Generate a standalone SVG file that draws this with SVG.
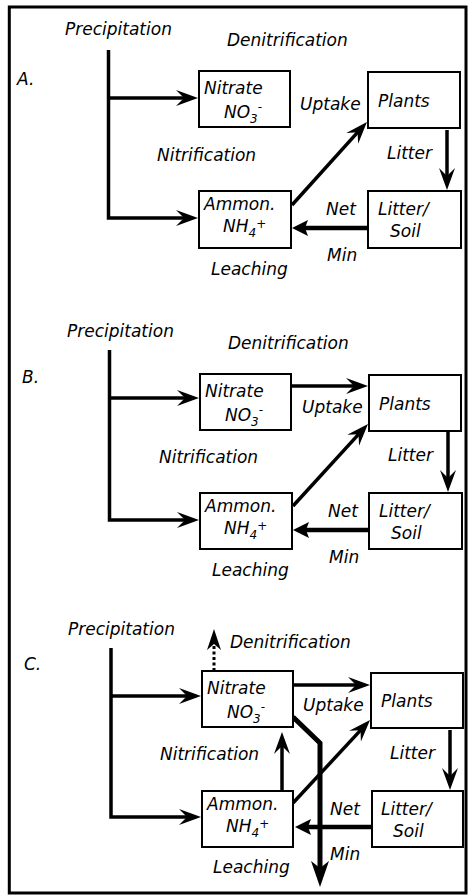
<svg xmlns="http://www.w3.org/2000/svg" width="468" height="895" viewBox="0 0 468 895">
<style>
.t{font-family:"DejaVu Sans","Liberation Sans",sans-serif;font-style:italic;font-size:17px;fill:#000}
.s{font-size:12px}
.box{fill:#fff;stroke:#000;stroke-width:2}
.ln{fill:none;stroke:#000;stroke-width:3.5}
.ar{fill:none;stroke:#000;stroke-width:3.5;marker-end:url(#ah)}
.arf{fill:none;stroke:#000;stroke-width:4.5;marker-end:url(#ahf)}
.arb{fill:none;stroke:#000;stroke-width:5;marker-end:url(#ahb)}
.ard{fill:none;stroke:#000;stroke-width:3;stroke-dasharray:3 2.5;marker-end:url(#ahd)}
</style>
<defs>
<marker id="ah" viewBox="-23 -9 24 18" refX="-8" refY="0" markerWidth="24" markerHeight="18" orient="auto" markerUnits="userSpaceOnUse"><path d="M0,0 L-22,-8 L-14,0 L-22,8 Z" fill="#000"/></marker>
<marker id="ahf" viewBox="-17 -9 18 18" refX="-6" refY="0" markerWidth="18" markerHeight="18" orient="auto" markerUnits="userSpaceOnUse"><path d="M0,0 L-16,-8 L-13,0 L-16,8 Z" fill="#000"/></marker>
<marker id="ahb" viewBox="-27 -10 28 20" refX="-10" refY="0" markerWidth="28" markerHeight="20" orient="auto" markerUnits="userSpaceOnUse"><path d="M0,0 L-26,-9 L-19,0 L-26,9 Z" fill="#000"/></marker>
<marker id="ahd" viewBox="-22 -8 23 16" refX="-17" refY="0" markerWidth="23" markerHeight="16" orient="auto" markerUnits="userSpaceOnUse"><path d="M0,0 L-21,-7 L-15,0 L-21,7 Z" fill="#000"/></marker>
</defs>
<rect x="9.3" y="7" width="456.7" height="886" fill="#fff" stroke="#000" stroke-width="3"/>

<!-- Panel A -->
<g id="panelA">
  <g id="A-connectors">
    <polyline class="ar" points="108.5,50 108.5,218 190,218"/>
    <line class="ar" x1="108.5" y1="98" x2="190" y2="98"/>
    <line class="ar" x1="292" y1="205" x2="361.6" y2="127.9"/>
    <line class="ar" x1="447" y1="130" x2="447" y2="182"/>
    <line class="arf" x1="368" y1="228" x2="298" y2="228"/>
  </g>
  <g id="A-nitrate"><rect class="box" x="199" y="71" width="91" height="56"/><text class="t" x="204" y="94">Nitrate</text><text class="t" x="224" y="118">NO<tspan class="s" dy="5">3</tspan><tspan class="s" dy="-12.5">-</tspan></text></g>
  <g id="A-plants"><rect class="box" x="368" y="72" width="92" height="56"/><text class="t" x="378" y="107">Plants</text></g>
  <g id="A-ammon"><rect class="box" x="199" y="191" width="92" height="57"/><text class="t" x="204" y="210">Ammon.</text><text class="t" x="223" y="232">NH<tspan class="s" dy="5">4</tspan><tspan class="s" dy="-9">+</tspan></text></g>
  <g id="A-litter"><rect class="box" x="368" y="191" width="93" height="57"/><text class="t" x="378" y="215">Litter/</text><text class="t" x="390" y="237">Soil</text></g>
  <g id="A-labels">
    <text class="t" x="17" y="85">A.</text>
    <text class="t" x="65" y="34.5">Precipitation</text>
    <text class="t" x="227" y="46">Denitrification</text>
    <text class="t" x="300" y="110">Uptake</text>
    <text class="t" x="157" y="161">Nitrification</text>
    <text class="t" x="387" y="159">Litter</text>
    <text class="t" x="326" y="215">Net</text>
    <text class="t" x="327" y="261">Min</text>
    <text class="t" x="211" y="275">Leaching</text>
  </g>
</g>

<!-- Panel B -->
<g id="panelB" transform="translate(1,302)">
  <g id="B-connectors">
    <polyline class="ar" points="108.5,48 108.5,218 190,218"/>
    <line class="ar" x1="108.5" y1="96" x2="190" y2="96"/>
    <line class="ar" x1="291" y1="84" x2="359" y2="84"/>
    <line class="ar" x1="292" y1="204" x2="361.6" y2="127.9"/>
    <line class="ar" x1="447" y1="130" x2="447" y2="182"/>
    <line class="arf" x1="368" y1="228" x2="298" y2="228"/>
  </g>
  <g id="B-nitrate"><rect class="box" x="199" y="72" width="91" height="56"/><text class="t" x="204" y="95">Nitrate</text><text class="t" x="224" y="119">NO<tspan class="s" dy="5">3</tspan><tspan class="s" dy="-12.5">-</tspan></text></g>
  <g id="B-plants"><rect class="box" x="368" y="73" width="92" height="56"/><text class="t" x="378" y="108">Plants</text></g>
  <g id="B-ammon"><rect class="box" x="199" y="191" width="92" height="56"/><text class="t" x="204" y="210">Ammon.</text><text class="t" x="223" y="232">NH<tspan class="s" dy="5">4</tspan><tspan class="s" dy="-9">+</tspan></text></g>
  <g id="B-litter"><rect class="box" x="368" y="191" width="93" height="56"/><text class="t" x="378" y="215">Litter/</text><text class="t" x="390" y="237">Soil</text></g>
  <g id="B-labels">
    <text class="t" x="21" y="81">B.</text>
    <text class="t" x="66" y="34.5">Precipitation</text>
    <text class="t" x="227" y="46.5">Denitrification</text>
    <text class="t" x="301" y="111">Uptake</text>
    <text class="t" x="158" y="161">Nitrification</text>
    <text class="t" x="387" y="159">Litter</text>
    <text class="t" x="327" y="215">Net</text>
    <text class="t" x="328" y="261">Min</text>
    <text class="t" x="211" y="274">Leaching</text>
  </g>
</g>

<!-- Panel C -->
<g id="panelC" transform="translate(3,600)">
  <g id="C-connectors">
    <polyline class="ar" points="108,48 108,217 190,217"/>
    <line class="ar" x1="108" y1="96" x2="190" y2="96"/>
    <line class="ar" x1="290" y1="85" x2="359" y2="85"/>
    <line class="ard" x1="211" y1="71" x2="211" y2="46"/>
    <line class="ar" x1="279" y1="191" x2="279" y2="140"/>
    <line class="ar" x1="290" y1="203" x2="361.6" y2="125.9"/>
    <line class="ar" x1="447" y1="130" x2="447" y2="182"/>
    <line class="arf" x1="369" y1="227" x2="298" y2="227"/>
    <polyline class="arb" points="290,117 317,143 317,277"/>
  </g>
  <g id="C-nitrate"><rect class="box" x="199" y="71" width="91" height="56"/><text class="t" x="204" y="94">Nitrate</text><text class="t" x="224" y="118">NO<tspan class="s" dy="5">3</tspan><tspan class="s" dy="-12.5">-</tspan></text></g>
  <g id="C-plants"><rect class="box" x="368" y="73" width="92" height="55"/><text class="t" x="378" y="107">Plants</text></g>
  <g id="C-ammon"><rect class="box" x="199" y="191" width="91" height="56"/><text class="t" x="204" y="210">Ammon.</text><text class="t" x="223" y="232">NH<tspan class="s" dy="5">4</tspan><tspan class="s" dy="-9">+</tspan></text></g>
  <g id="C-litter"><rect class="box" x="369" y="191" width="91" height="56"/><text class="t" x="378" y="215">Litter/</text><text class="t" x="390" y="237">Soil</text></g>
  <g id="C-labels">
    <text class="t" x="21" y="70">C.</text>
    <text class="t" x="65" y="34.5">Precipitation</text>
    <text class="t" x="227" y="48">Denitrification</text>
    <text class="t" x="300" y="111">Uptake</text>
    <text class="t" x="157" y="160">Nitrification</text>
    <text class="t" x="387" y="159">Litter</text>
    <text class="t" x="327" y="215">Net</text>
    <text class="t" x="327" y="260">Min</text>
    <text class="t" x="210" y="273">Leaching</text>
  </g>
</g>
</svg>
